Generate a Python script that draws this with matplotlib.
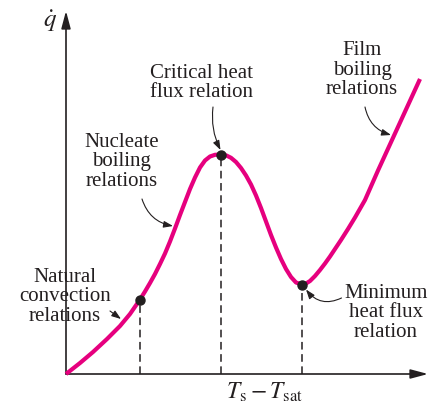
import numpy as np
import matplotlib
matplotlib.use('Agg')
import matplotlib.pyplot as plt

plt.rcParams['font.family'] = ['Liberation Serif', 'DejaVu Serif']
plt.rcParams['mathtext.fontset'] = 'stix'

# boiling curve (x = Ts - Tsat, y = q dot, arbitrary units)
curve_x = [0, 14, 27, 41, 54, 64, 74,
           79, 84, 89, 94, 99, 104, 109, 114, 119, 124, 129, 134, 139, 144, 149, 155,
           160, 165, 170, 175, 180, 185, 190, 195, 200, 205, 210, 215, 220, 225, 230, 236,
           240, 244, 249, 254, 259, 264, 269, 275, 282, 289, 299, 312, 326, 340, 354]
curve_y = [0, 11, 22, 35, 48, 60, 74.5,
           82.5, 91, 100, 110, 120.5, 132.5, 145.5, 159, 172, 185, 196.5, 206.5, 213.5,
           217.5, 219.2, 219.5,
           218.7, 216.2, 212, 206, 198.5, 189.5, 178.5, 166, 152.5, 139, 126.5, 115, 105,
           97, 91.5, 89.5,
           90.5, 93, 98, 104, 110.5, 117.5, 125, 134, 145, 156.5, 174, 203.5, 234, 264.5, 295]

# marked points: natural convection limit, critical heat flux, minimum heat flux
pts_x = [74, 155, 235.5]
pts_y = [74.5, 219.5, 89.5]

labels = ['Natural\nconvection\nrelations', 'Nucleate\nboiling\nrelations',
          'Critical heat\nflux relation', 'Minimum\nheat flux\nrelation',
          'Film\nboiling\nrelations']
xlabel = r'$T_{\rm s} - T_{\rm sat}$'
ylabel = r'$\dot{q}$'

ink = '#231f20'
pink = '#e6007e'

fig = plt.figure(figsize=(4.38, 4.10), dpi=100)
ax = fig.add_axes([0, 0, 1, 1])
ax.set_xlim(-66, 372)
ax.set_ylim(-35, 375)
ax.axis('off')

# axes with arrow heads
axarrow = dict(arrowstyle='-|>,head_length=0.75,head_width=0.2', color=ink, lw=1.2,
               mutation_scale=14, shrinkA=0, shrinkB=0)
ax.annotate('', xy=(362, 0), xytext=(0, 0), arrowprops=axarrow)
ax.annotate('', xy=(0, 363), xytext=(0, 0), arrowprops=axarrow)

# dashed drop lines
ax.vlines(pts_x, 0, pts_y, colors=ink, linestyles=(0, (5, 3)), lw=1.1)

ax.plot(curve_x, curve_y, color=pink, lw=3.0, solid_joinstyle='round',
        solid_capstyle='butt', zorder=3)
ax.plot(pts_x, pts_y, 'o', color=ink, ms=6.5, zorder=4)

fs = 15
ls = 1.05
ax.text(-16, 354, ylabel, fontsize=18, color=ink, ha='center', va='center')
ax.text(160, -17, xlabel, fontsize=17, color=ink, ha='left', va='center')

def pointer(x0, y0, x1, y1, rad):
  ax.annotate('', xy=(x1, y1), xytext=(x0, y0),
              arrowprops=dict(arrowstyle='-|>,head_length=0.7,head_width=0.25', color=ink,
                              lw=0.8, mutation_scale=8, shrinkA=0, shrinkB=0,
                              connectionstyle='arc3,rad=%s' % rad))

ax.text(-1, 78, labels[0], fontsize=fs, color=ink, ha='center', va='center', linespacing=ls)
pointer(44, 63, 55, 55, 0)

ax.text(55.5, 213, labels[1], fontsize=fs, color=ink, ha='center', va='center', linespacing=ls)
pointer(76, 175, 107, 148, 0.3)

ax.text(135, 292, labels[2], fontsize=fs, color=ink, ha='center', va='center', linespacing=ls)
pointer(147, 267, 154.5, 224, 0.15)

ax.text(320, 62, labels[3], fontsize=fs, color=ink, ha='center', va='center', linespacing=ls)
pointer(275.5, 76, 240, 84.5, -0.4)

ax.text(296, 305, labels[4], fontsize=fs, color=ink, ha='center', va='center', linespacing=ls)
pointer(299, 267, 325, 239, 0.3)

fig.savefig('out.png', dpi=100)
